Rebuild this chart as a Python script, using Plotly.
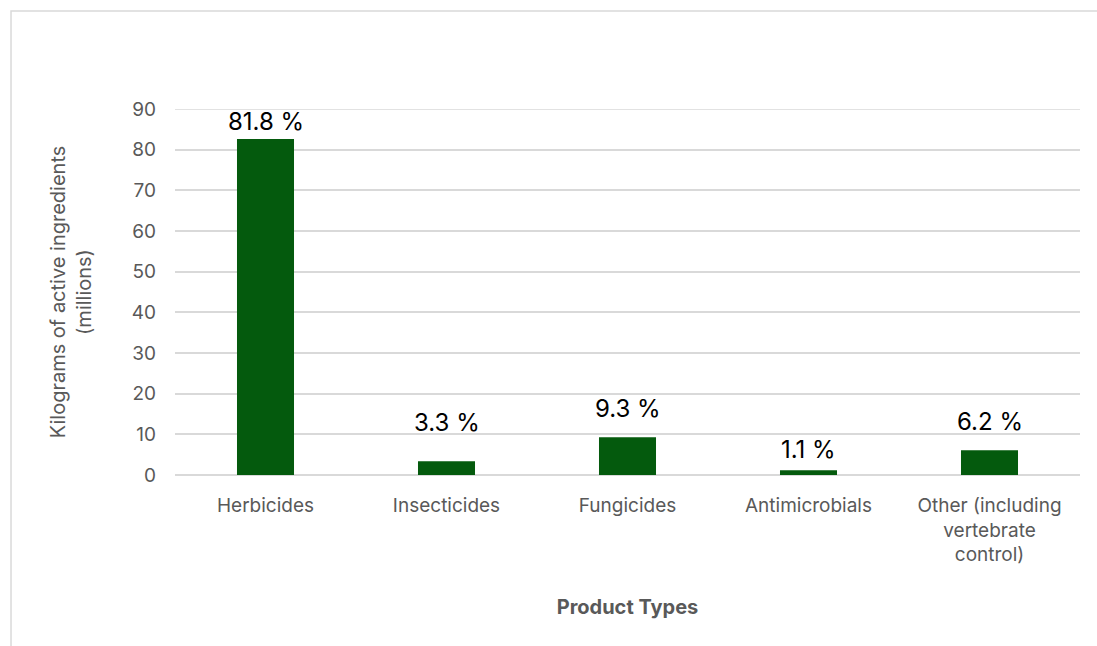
import plotly.graph_objects as go

# Pesticide use by product type
categories = ["Herbicides", "Insecticides", "Fungicides", "Antimicrobials",
              "Other (including<br>vertebrate<br>control)"]
kg_millions = [82.6, 3.4, 9.3, 1.15, 6.1]
share_pct = [81.8, 3.3, 9.3, 1.1, 6.2]
y_ticks = [0, 10, 20, 30, 40, 50, 60, 70, 80, 90]

# vertical pixel offsets for the percentage labels above each bar
label_shift = [1, 22, 12, 4, 12]

FONT = "Inter, Roboto, 'Open Sans', sans-serif"
GRAY = "#595959"
GREEN = "#045a0d"
GRID = "#d9d9d9"

fig = go.Figure()
fig.add_trace(go.Bar(
    x=categories,
    y=kg_millions,
    marker=dict(color=GREEN, line=dict(width=0)),
    width=0.315,
    hoverinfo="x+y",
))

for cat, val, pct, dy in zip(categories, kg_millions, share_pct, label_shift):
    fig.add_annotation(
        x=cat, y=val, text=f"{pct:.1f} %", showarrow=False,
        yanchor="bottom", yshift=dy,
        font=dict(family=FONT, size=24, color="#000000"),
    )

fig.update_layout(
    width=1097, height=646,
    margin=dict(l=175, r=17, t=109, b=171),
    plot_bgcolor="white", paper_bgcolor="white",
    showlegend=False,
    font=dict(family=FONT, color=GRAY),
    xaxis=dict(
        showgrid=False, showline=False, ticks="",
        tickfont=dict(size=19, color=GRAY),
        ticklabelstandoff=17,
        title=dict(text="<b>Product Types</b>", font=dict(size=20, color=GRAY),
                   standoff=34),
    ),
    yaxis=dict(
        range=[0, 90], tickvals=y_ticks,
        showgrid=True, gridcolor=GRID, gridwidth=1.5,
        zeroline=True, zerolinecolor=GRID, zerolinewidth=1.5,
        showline=False, ticks="",
        tickfont=dict(size=19, color=GRAY),
        ticklabelstandoff=18,
        title=dict(text="Kilograms of active ingredients<br>(millions)",
                   font=dict(size=20, color=GRAY), standoff=34),
    ),
    shapes=[
        # top gridline at the edge of the value range
        dict(type="line", xref="paper", yref="y", x0=0, x1=1, y0=90, y1=90,
             line=dict(color=GRID, width=1.5), layer="below"),
        # chart frame, open past the right and bottom edges of the page
        dict(type="rect", xref="paper", yref="paper",
             x0=-0.1812, x1=1.025, y0=-0.48, y1=1.268,
             line=dict(color=GRID, width=1.5), layer="below"),
    ],
)

fig.write_html("out.html")
